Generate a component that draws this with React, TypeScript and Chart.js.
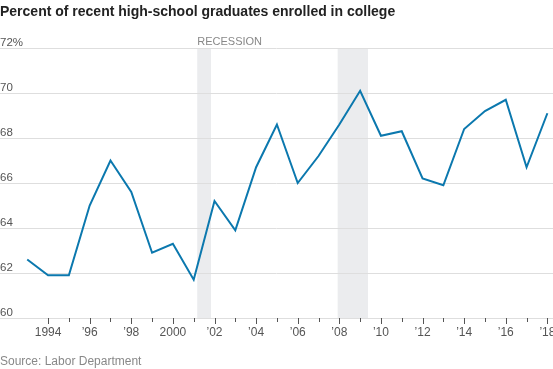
import React, { useEffect, useRef } from "react";
import { Chart, registerables } from "chart.js";

Chart.register(...registerables);

const titleText = "Percent of recent high-school graduates enrolled in college";
const sourceText = "Source: Labor Department";
const recessionLabel = "RECESSION";

const years = [
  1993, 1994, 1995, 1996, 1997, 1998, 1999, 2000, 2001, 2002, 2003, 2004, 2005,
  2006, 2007, 2008, 2009, 2010, 2011, 2012, 2013, 2014, 2015, 2016, 2017, 2018,
];
const enrolled = [
  62.6, 61.9, 61.9, 65.0, 67.0, 65.6, 62.9, 63.3, 61.7, 65.2, 63.9, 66.7, 68.6,
  66.0, 67.2, 68.6, 70.1, 68.1, 68.3, 66.2, 65.9, 68.4, 69.2, 69.7, 66.7, 69.1,
];

const yTicks = [60, 62, 64, 66, 68, 70, 72];
const yTickLabels = ["60", "62", "64", "66", "68", "70", "72%"];

const tickYears = [
  1994, 1995, 1996, 1997, 1998, 1999, 2000, 2001, 2002, 2003, 2004, 2005, 2006,
  2007, 2008, 2009, 2010, 2011, 2012, 2013, 2014, 2015, 2016, 2017, 2018,
];
const labelYears = [1994, 1996, 1998, 2000, 2002, 2004, 2006, 2008, 2010, 2012, 2014, 2016, 2018];
const labelTexts = ["1994", "\u201996", "\u201998", "2000", "\u201902", "\u201904", "\u201906", "\u201908", "\u201910", "\u201912", "\u201914", "\u201916", "\u201918"];

const recessionStarts = [2001.17, 2007.92];
const recessionEnds = [2001.83, 2009.38];

const X_MIN = 1991.69;
const X_MAX = 2018.27;

const FONT = "'Liberation Sans', Arial, sans-serif";

const decorPlugin = {
  id: "decor",
  beforeDraw(chart: any) {
    const { ctx, chartArea, scales } = chart;
    const x = scales.x;
    ctx.save();
    ctx.fillStyle = "#ebecee";
    recessionStarts.forEach((s, i) => {
      const x0 = x.getPixelForValue(s);
      const x1 = x.getPixelForValue(recessionEnds[i]);
      ctx.fillRect(x0, chartArea.top, x1 - x0, chartArea.bottom - chartArea.top);
    });
    ctx.restore();
  },
  afterDraw(chart: any) {
    const { ctx, chartArea, scales } = chart;
    const x = scales.x;
    ctx.save();
    // tick marks
    ctx.strokeStyle = "#555";
    ctx.lineWidth = 1;
    tickYears.forEach((yr) => {
      const px = Math.round(x.getPixelForValue(yr)) + 0.5;
      const len = labelYears.includes(yr) ? 6 : 4;
      ctx.beginPath();
      ctx.moveTo(px, chartArea.bottom);
      ctx.lineTo(px, chartArea.bottom + len);
      ctx.stroke();
    });
    // title
    ctx.fillStyle = "#222";
    ctx.font = `bold 14px ${FONT}`;
    ctx.textAlign = "left";
    ctx.textBaseline = "alphabetic";
    ctx.fillText(titleText, 0, 16);
    // recession label
    ctx.fillStyle = "#888";
    ctx.font = `11px ${FONT}`;
    ctx.fillText(recessionLabel, x.getPixelForValue(recessionStarts[0]), 45);
    // source
    ctx.fillStyle = "#888";
    ctx.font = `12px ${FONT}`;
    ctx.fillText(sourceText, 0, 365);
    ctx.restore();
  },
};

export default function App() {
  const ref = useRef<HTMLCanvasElement | null>(null);
  useEffect(() => {
    if (!ref.current) return;
    const chart = new Chart(ref.current, {
      type: "line",
      data: {
        datasets: [
          {
            data: years.map((yr, i) => ({ x: yr, y: enrolled[i] })),
            borderColor: "#0b78ae",
            borderWidth: 2,
            pointRadius: 0,
            tension: 0,
            fill: false,
          },
        ],
      },
      options: {
        animation: false,
        responsive: false,
        devicePixelRatio: 1,
        layout: { padding: { top: 48, left: 0, right: 0, bottom: 0 } },
        plugins: { legend: { display: false }, tooltip: { enabled: false }, title: { display: false } },
        scales: {
          x: {
            type: "linear",
            min: X_MIN,
            max: X_MAX,
            afterBuildTicks: (s: any) => {
              s.ticks = labelYears.map((v) => ({ value: v }));
            },
            grid: { display: false, drawTicks: false },
            border: { display: false },
            ticks: {
              autoSkip: false,
              maxRotation: 0,
              padding: 7,
              color: "#555",
              font: { family: FONT, size: 12 },
              callback: (v: any) => {
                const i = labelYears.indexOf(Number(v));
                return i >= 0 ? labelTexts[i] : "";
              },
            },
            afterFit: (s: any) => {
              s.height = 51;
              s.paddingLeft = 0;
              s.paddingRight = 0;
            },
          },
          y: {
            type: "linear",
            min: 60,
            max: 72,
            afterBuildTicks: (s: any) => {
              s.ticks = yTicks.map((v) => ({ value: v }));
            },
            grid: { color: "#dedede", lineWidth: 1, drawTicks: false },
            border: { display: false },
            ticks: {
              mirror: true,
              padding: 0,
              labelOffset: -5,
              color: "#555",
              font: { family: FONT, size: 11.5 },
              callback: (v: any) => {
                const i = yTicks.indexOf(Number(v));
                return i >= 0 ? yTickLabels[i] : "";
              },
            },
            afterFit: (s: any) => {
              s.width = 0;
              s.paddingTop = 0;
              s.paddingBottom = 0;
            },
          },
        },
      },
      plugins: [decorPlugin],
    });
    return () => chart.destroy();
  }, []);
  return (
    <div style={{ position: "absolute", left: 0, top: 0, width: 553, height: 369, background: "#fff" }}>
      <canvas ref={ref} width={553} height={369} style={{ width: 553, height: 369, display: "block" }} />
    </div>
  );
}
